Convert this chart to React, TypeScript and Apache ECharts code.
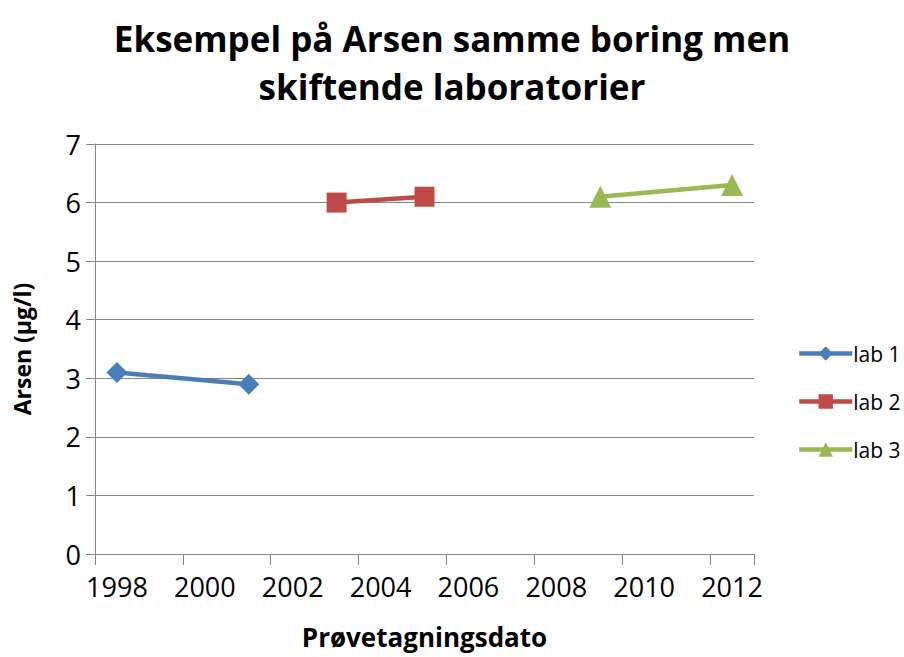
import React, { useEffect, useRef } from "react";
import * as echarts from "echarts";

const titleLines = ["Eksempel på Arsen samme boring men", "skiftende laboratorier"];
const yearLabels = ["1998","1999","2000","2001","2002","2003","2004","2005","2006","2007","2008","2009","2010","2011","2012"];
const lab1 = [[1998, 3.1], [2001, 2.9]];
const lab2 = [[2003, 6.0], [2005, 6.1]];
const lab3 = [[2009, 6.1], [2012, 6.3]];
const seriesNames = ["lab 1", "lab 2", "lab 3"];
const colors = ["#4A7EBB", "#BE4B48", "#98B954"];

const FONT = "'Open Sans', sans-serif";

export default function App() {
  const ref = useRef<HTMLDivElement>(null);
  useEffect(() => {
    if (!ref.current) return;
    const chart = echarts.init(ref.current, null, { renderer: "svg" });
    const gridColor = "#878787";
    chart.setOption({
      animation: false,
      backgroundColor: "#ffffff",
      title: {
        text: titleLines.join("\n"),
        left: "center",
        top: 9,
        textStyle: { fontFamily: FONT, fontWeight: "bold", fontSize: 35, color: "#000", lineHeight: 48 },
      },
      legend: {
        orient: "vertical",
        left: 792,
        top: 338,
        itemWidth: 53,
        itemHeight: 18,
        itemGap: 27,
        lineStyle: { width: 4.5 },
        textStyle: { fontFamily: FONT, fontSize: 21, color: "#000", padding: [0, 0, 0, -4] },
        data: seriesNames,
      },
      grid: { left: 95, right: 150, top: 144, bottom: 103, containLabel: false },
      xAxis: [
        {
          type: "category",
          data: yearLabels,
          boundaryGap: true,
          position: "bottom",
          name: "Prøvetagningsdato",
          nameLocation: "middle",
          nameGap: 70,
          nameTextStyle: { fontFamily: FONT, fontWeight: "bold", fontSize: 26, color: "#000" },
          axisLine: { show: true, lineStyle: { color: gridColor, width: 1 } },
          axisTick: { show: true, interval: 1, length: 11, lineStyle: { color: gridColor } },
          axisLabel: { interval: 1, fontFamily: FONT, fontSize: 27, color: "#000", margin: 19 },
          splitLine: { show: false },
        },
        {
          type: "value",
          min: 1997.5,
          max: 2012.5,
          show: false,
          splitLine: { show: false },
        },
      ],
      yAxis: {
        type: "value",
        min: 0,
        max: 7,
        interval: 1,
        name: "Arsen (µg/l)",
        nameLocation: "middle",
        nameGap: 62,
        nameTextStyle: { fontFamily: FONT, fontWeight: "bold", fontSize: 23, color: "#000" },
        axisLine: { show: true, lineStyle: { color: gridColor, width: 1 } },
        axisTick: { show: true, length: 9, lineStyle: { color: gridColor } },
        axisLabel: { fontFamily: FONT, fontSize: 27, color: "#000", margin: 14 },
        splitLine: { show: true, lineStyle: { color: gridColor, width: 1 } },
      },
      series: [
        {
          name: seriesNames[0], type: "line", xAxisIndex: 1, data: lab1,
          symbol: "diamond", symbolSize: 21,
          lineStyle: { width: 4.5, color: colors[0] }, itemStyle: { color: colors[0] },
        },
        {
          name: seriesNames[1], type: "line", xAxisIndex: 1, data: lab2,
          symbol: "rect", symbolSize: 20,
          lineStyle: { width: 4.5, color: colors[1] }, itemStyle: { color: colors[1] },
        },
        {
          name: seriesNames[2], type: "line", xAxisIndex: 1, data: lab3,
          symbol: "triangle", symbolSize: 22,
          lineStyle: { width: 4.5, color: colors[2] }, itemStyle: { color: colors[2] },
        },
      ],
    });
    return () => chart.dispose();
  }, []);
  return <div ref={ref} style={{ width: 904, height: 657, position: "absolute", left: 0, top: 0 }} />;
}
